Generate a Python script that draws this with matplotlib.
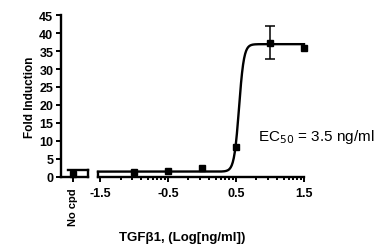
import numpy as np
import matplotlib
matplotlib.use("Agg")
import matplotlib.pyplot as plt

# data
log_conc = [-1.0, -0.5, 0.0, 0.5, 1.0, 1.5]
fold = [1.3, 1.6, 2.5, 8.4, 37.3, 35.9]
fold_err = [0.0, 0.0, 0.0, 0.0, 4.6, 0.0]
nocpd_value = 0.8
# fitted sigmoid parameters
fit_bottom, fit_top, fit_logec50, fit_hill = 1.5, 36.9, 0.544, 12.0
xticks = [-1.5, -0.5, 0.5, 1.5]
xticklabels = ["-1.5", "-0.5", "0.5", "1.5"]
yticks = list(range(0, 46, 5))

plt.rcParams['font.family'] = ['Liberation Sans', 'DejaVu Sans']
fig = plt.figure(figsize=(3.85, 2.53), dpi=100)

H = 253.0; W = 385.0
y0, y1 = 178, 16
bottom = (H - y0) / H
height = (y0 - y1) / H
ax1 = fig.add_axes([61 / W, bottom, 27 / W, height])
ax2 = fig.add_axes([98 / W, bottom, (304 - 98) / W, height])

lw = 1.7
for ax in (ax1, ax2):
    ax.set_ylim(0, 45)
    for s in ('top', 'right'):
        ax.spines[s].set_visible(False)
    ax.spines['bottom'].set_linewidth(lw)
    ax.spines['left'].set_linewidth(lw)
    ax.tick_params(axis='both', which='major', direction='out', length=3.5, width=1.4,
                   labelsize=9, pad=2)
    ax.tick_params(axis='x', which='major', pad=4)
    ax.tick_params(axis='x', which='minor', direction='out', length=2.5, width=1.4)
    ax.patch.set_alpha(0)

# No cpd axis
ax1.set_xlim(0, 1)
ax1.set_yticks(yticks)
for lab in ax1.get_yticklabels():
    lab.set_fontweight('bold')
ax1.set_xticks([0.45])
ax1.set_xticklabels(["No cpd"], rotation=90, fontweight='bold', fontsize=8)
ax1.plot([0.45], [nocpd_value], 's', color='black', markersize=5, clip_on=False, zorder=5)
ax1.plot([0.27, 1.0], [fit_bottom + 0.4, fit_bottom + 0.4], color='black', lw=lw, clip_on=False)
ax1.plot([1.0, 1.0], [0, fit_bottom + 0.4], color='black', lw=lw, clip_on=False)
ax1.set_ylabel("Fold Induction", fontweight='bold', fontsize=8.5, labelpad=2)

# main axis
ax2.spines['left'].set_visible(False)
ax2.set_yticks([])
ax2.set_xlim(-1.53, 1.5)
ax2.set_xticks(xticks)
ax2.set_xticklabels(xticklabels, fontweight='bold')
minor = []
for base in xticks[:-1]:
    for k in range(2, 10):
        minor.append(base + np.log10(k))
ax2.set_xticks(minor, minor=True)

xs = np.linspace(-1.53, 1.5, 400)
ys = fit_bottom + (fit_top - fit_bottom) / (1 + 10 ** ((fit_logec50 - xs) * fit_hill))
ax2.plot(xs, ys, color='black', lw=lw, clip_on=False)
ax2.plot([-1.53, -1.53], [0, ys[0]], color='black', lw=lw, clip_on=False)
ax2.errorbar(log_conc, fold, yerr=[e if e > 0 else np.nan for e in fold_err], fmt='s',
             color='black', markersize=5, elinewidth=1.1, capsize=3.5, capthick=1.1,
             clip_on=False, zorder=5)

fig.text(258 / W, 1 - 137 / H, r"EC$_{50}$ = 3.5 ng/ml", fontsize=11, va='center', ha='left')
fig.text(182 / W, 1 - 238 / H, "TGFβ1, (Log[ng/ml])", fontsize=9.5, fontweight='bold',
         ha='center', va='center')

fig.savefig("out.png", dpi=100)
